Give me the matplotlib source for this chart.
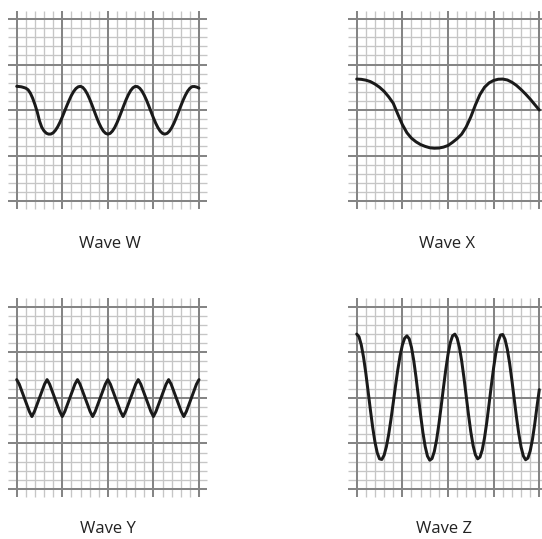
import numpy as np
import matplotlib
matplotlib.use("Agg")
import matplotlib.pyplot as plt

# ---- data (grid units: x 0..20 minor divisions, y -10..10) ----
wave_w_y = [2.60, 2.58, 2.55, 2.48, 2.40, 2.22, 1.85, 1.30, 0.60, -0.20,
            -1.20, -1.90, -2.30, -2.55, -2.65, -2.64, -2.51, -2.23, -1.84, -1.34,
            -0.77, -0.15, 0.47, 1.06, 1.60, 2.04, 2.36, 2.55, 2.60, 2.48,
            2.19, 1.76, 1.21, 0.58, -0.09, -0.76, -1.38, -1.90, -2.31, -2.56,
            -2.65, -2.57, -2.32, -1.93, -1.41, -0.81, -0.16, 0.50, 1.13, 1.68,
            2.13, 2.44, 2.59, 2.57, 2.39, 2.07, 1.61, 1.06, 0.43, -0.22,
            -0.86, -1.45, -1.95, -2.33, -2.57, -2.65, -2.57, -2.33, -1.95, -1.45,
            -0.86, -0.22, 0.43, 1.06, 1.61, 2.07, 2.39, 2.57, 2.58, 2.52,
            2.40]

wave_x_y = [3.40, 3.37, 3.28, 3.12, 2.85, 2.50, 2.05, 1.45, 0.75, -0.45,
            -1.60, -2.50, -3.10, -3.50, -3.80, -4.00, -4.15, -4.20, -4.18, -4.08,
            -3.90, -3.55, -3.15, -2.65, -1.85, -0.75, 0.55, 1.70, 2.50, 2.98,
            3.25, 3.38, 3.40, 3.30, 3.05, 2.70, 2.25, 1.75, 1.20, 0.60,
            0.00]

wave_y_y = [2.0, 1.5, 0.75, 0.0, -0.75, -1.5, -2.05, -1.5, -0.75, 0.0, 0.75, 1.5,
            2.0, 1.5, 0.75, 0.0, -0.75, -1.5, -2.05, -1.5, -0.75, 0.0, 0.75, 1.5,
            2.0, 1.5, 0.75, 0.0, -0.75, -1.5, -2.05, -1.5, -0.75, 0.0, 0.75, 1.5,
            2.0, 1.5, 0.75, 0.0, -0.75, -1.5, -2.05, -1.5, -0.75, 0.0, 0.75, 1.5,
            2.0, 1.5, 0.75, 0.0, -0.75, -1.5, -2.05, -1.5, -0.75, 0.0, 0.75, 1.5,
            2.0, 1.5, 0.75, 0.0, -0.75, -1.5, -2.05, -1.5, -0.75, 0.0, 0.75, 1.5,
            2.0]

wave_z_y = [7.00, 6.70, 5.82, 4.45, 2.70, 0.71, -1.32, -3.23, -4.85, -6.03,
            -6.69, -6.76, -6.30, -5.36, -4.03, -2.38, -0.56, 1.31, 3.07, 4.60,
            5.79, 6.54, 6.80, 6.48, 5.54, 4.09, 2.24, 0.19, -1.89, -3.79,
            -5.34, -6.39, -6.84, -6.66, -5.89, -4.61, -2.90, -0.95, 1.10, 3.05,
            4.76, 6.04, 6.81, 6.99, 6.55, 5.54, 4.04, 2.18, 0.15, -1.88,
            -3.74, -5.24, -6.25, -6.69, -6.50, -5.71, -4.39, -2.66, -0.67, 1.39,
            3.33, 4.99, 6.21, 6.89, 6.95, 6.41, 5.32, 3.79, 1.92, -0.11,
            -2.11, -3.92, -5.38, -6.37, -6.79, -6.61, -5.84, -4.56, -2.87, -0.92,
            0.90]

labels = ["Wave W", "Wave X", "Wave Y", "Wave Z"]

# ---- figure ----
W, H = 542, 539
fig = plt.figure(figsize=(W / 100, H / 100), dpi=100)

minor_c = "#c6c6c6"
major_c = "#858585"
line_c = "#1a1a1a"

# panel placement in pixels: (x of grid col 0, px per unit, y of grid row top, px per unit)
panels = [
    (16.7, 9.115, 19.0, 9.10),
    (356.7, 9.13, 19.0, 9.10),
    (16.7, 9.115, 306.7, 9.115),
    (356.7, 9.13, 306.7, 9.115),
]
waves = [wave_w_y, wave_x_y, wave_y_y, wave_z_y]
label_pos = [(110, 244), (447, 244), (108, 529), (444, 529)]

pad = 1.5
for (x0, ux, y0, uy), wy, lab, (lx, ly) in zip(panels, waves, labels, label_pos):
    left = x0 - pad * ux
    width = (20 + 2 * pad) * ux
    top = y0 - pad * uy
    height = (20 + 2 * pad) * uy
    ax = fig.add_axes([left / W, 1 - (top + height) / H, width / W, height / H])
    ax.set_xlim(-pad, 20 + pad)
    ax.set_ylim(-10 - pad, 10 + pad)
    ax.axis("off")
    ext = 0.9
    for i in range(21):
        major = (i % 5 == 0)
        c = major_c if major else minor_c
        lw = 1.45 if major else 0.95
        z = 2 if major else 1
        ax.plot([i, i], [-10 - ext, 10 + ext], color=c, lw=lw, zorder=z,
                solid_capstyle="butt")
        ax.plot([-ext, 20 + ext], [i - 10, i - 10], color=c, lw=lw, zorder=z,
                solid_capstyle="butt")
    xs = np.linspace(0, 20, len(wy))
    ax.plot(xs, wy, color=line_c, lw=2.15, zorder=5, solid_joinstyle="round",
            solid_capstyle="round")
    fig.text(lx / W, 1 - ly / H, lab, ha="center", va="center",
             fontsize=12, family="Open Sans", color="#222222")

fig.savefig("out.png", dpi=100)
